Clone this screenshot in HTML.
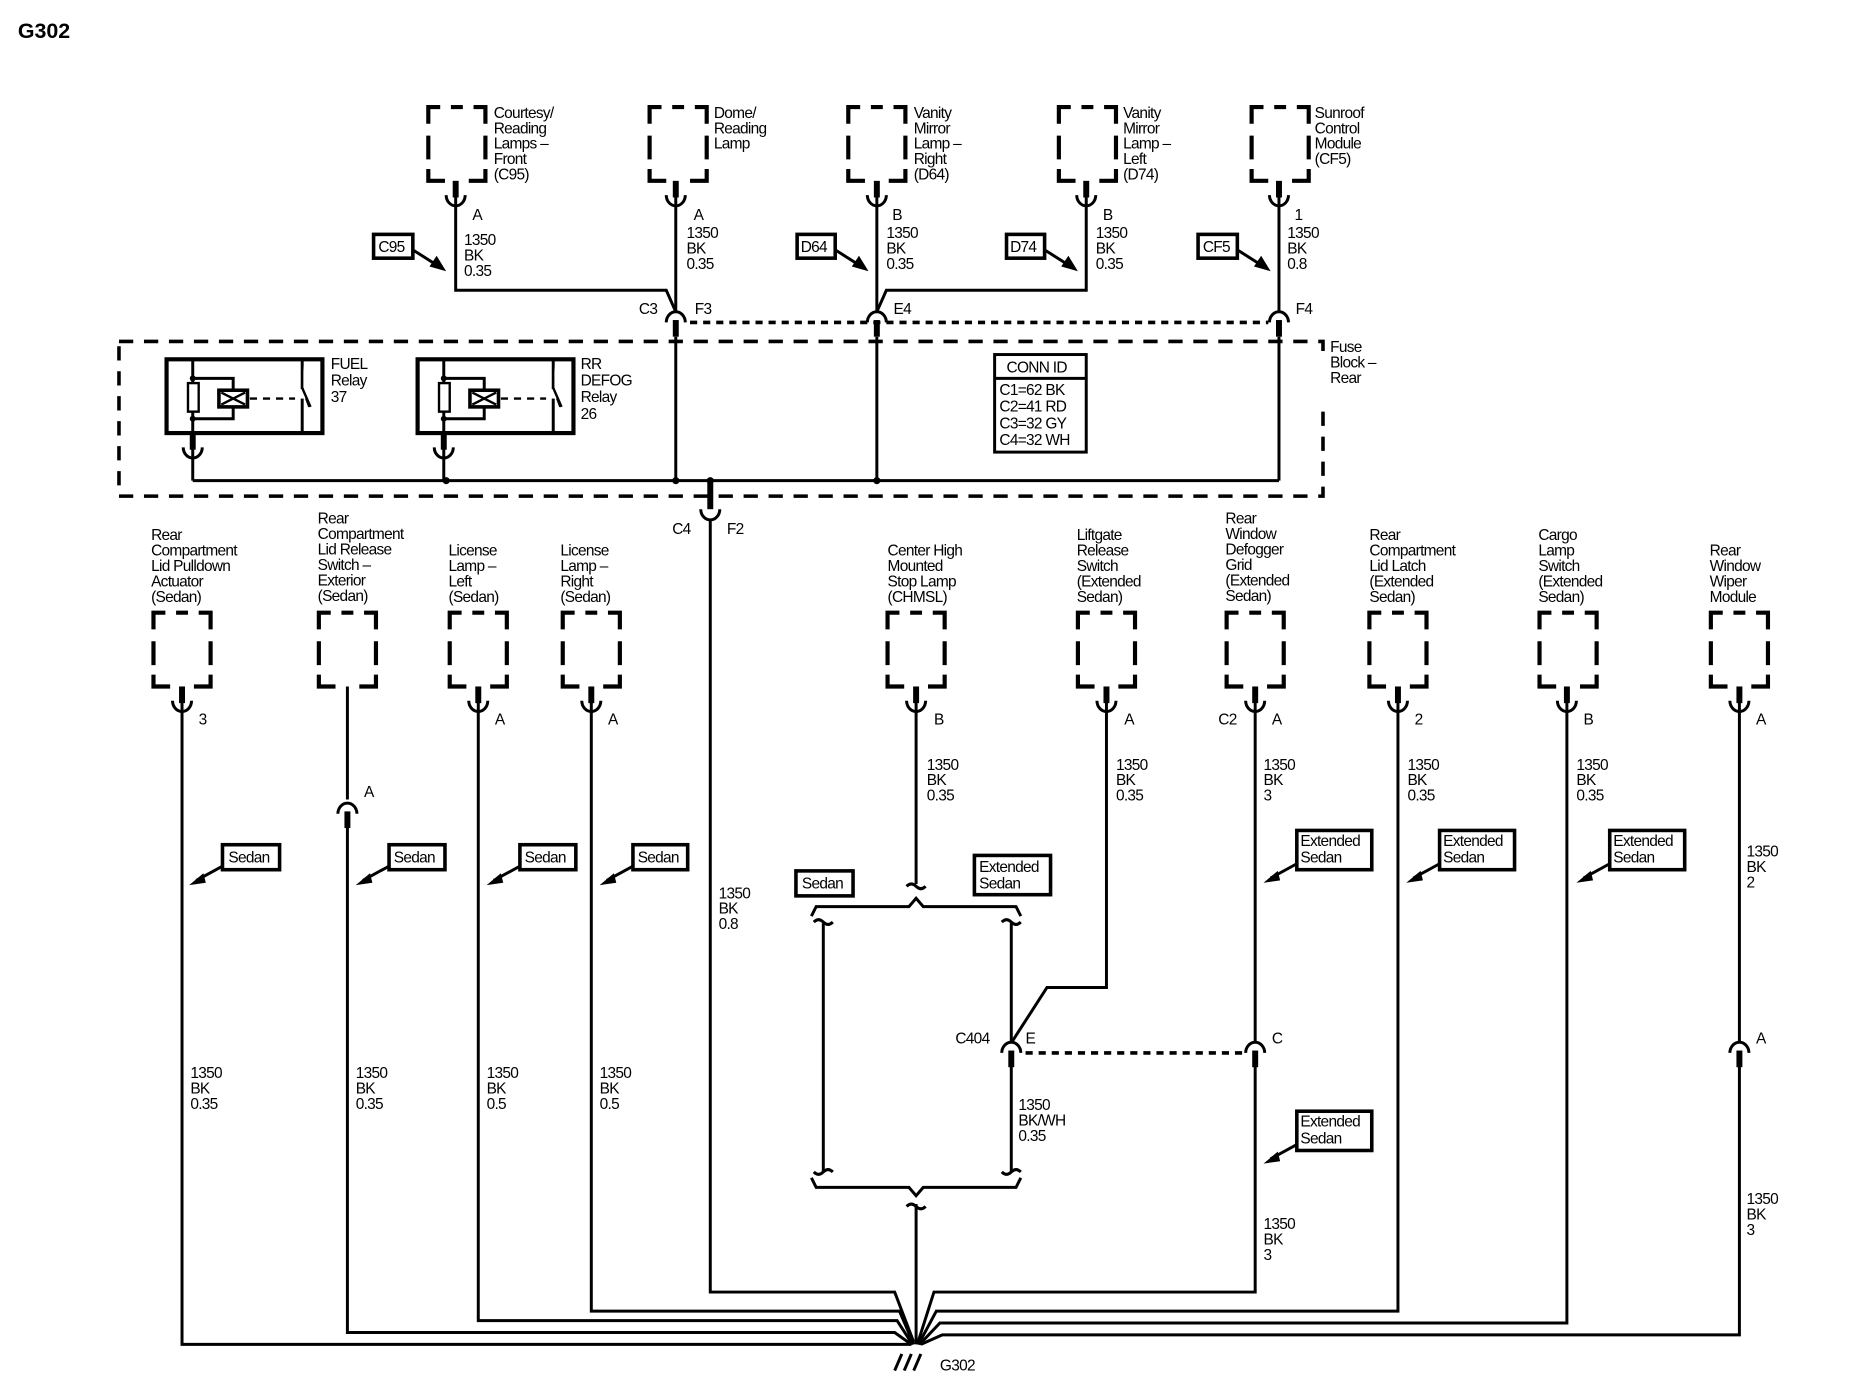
<!DOCTYPE html>
<html><head><meta charset="utf-8"><style>
html,body{margin:0;padding:0;background:#fff;}
svg{display:block;}
text{font-family:"Liberation Sans",sans-serif;font-size:13px;letter-spacing:-0.6px;fill:#000;}
.b{font-weight:bold;font-size:18px;letter-spacing:0;}
.w{stroke:#000;stroke-width:2.5;fill:none;}
.d{stroke:#000;stroke-width:3;fill:none;stroke-dasharray:12 9;}
.dt{stroke:#000;stroke-width:3;fill:none;stroke-dasharray:6 5;}
.bx{stroke:#000;stroke-width:3;fill:#fff;}
</style></head><body>
<svg width="1856" height="1392" viewBox="0 0 1560 1170" preserveAspectRatio="none" xmlns="http://www.w3.org/2000/svg">
<defs>
<!-- component pin: stub + cup, origin at box bottom -->
<g id="pin"><rect x="-2.5" y="0" width="5" height="14" fill="#000"/><path d="M-8,12 a8,9 0 0 0 16,0" class="w"/></g>
<!-- mating arch: origin at top of arch -->
<g id="arch"><path d="M-8,10 a8,9 0 0 1 16,0" class="w"/><rect x="-2.5" y="8" width="5" height="14" fill="#000"/></g>
<!-- dashed component box 48x62 -->
<g id="cb"><path d="M0,14 V0 H10 M19,0 H29 M38,0 H48 V14 M0,24 V44 M48,24 V44 M0,52 V62 H14 M34,62 H48 V52" stroke="#000" stroke-width="3.5" fill="none"/></g>
<g id="arrowL"><path d="M0,0 L-22,12" class="w"/><path d="M-28,16 L-16,6 L-14,14 Z" fill="#000"/></g>
<g id="arrowR"><path d="M0,0 L22,14" class="w"/><path d="M28,18 L14,14 L20,5 Z" fill="#000"/></g>
<g id="brk"><path d="M-8,2 q3,-5 8,-2 q5,3 8,-2" class="w"/></g>
</defs>

<text x="15" y="32" class="b">G302</text>

<!-- TOP COMPONENTS -->
<use href="#cb" x="360" y="90"/><use href="#pin" x="383" y="152"/>
<text x="415" y="99">Courtesy/</text><text x="415" y="112">Reading</text><text x="415" y="125">Lamps –</text><text x="415" y="138">Front</text><text x="415" y="151">(C95)</text>
<use href="#cb" x="546" y="90"/><use href="#pin" x="568" y="152"/>
<text x="600" y="99">Dome/</text><text x="600" y="112">Reading</text><text x="600" y="125">Lamp</text>
<use href="#cb" x="713" y="90"/><use href="#pin" x="737" y="152"/>
<text x="768" y="99">Vanity</text><text x="768" y="112">Mirror</text><text x="768" y="125">Lamp –</text><text x="768" y="138">Right</text><text x="768" y="151">(D64)</text>
<use href="#cb" x="890" y="90"/><use href="#pin" x="913" y="152"/>
<text x="944" y="99">Vanity</text><text x="944" y="112">Mirror</text><text x="944" y="125">Lamp –</text><text x="944" y="138">Left</text><text x="944" y="151">(D74)</text>
<use href="#cb" x="1052" y="90"/><use href="#pin" x="1075" y="152"/>
<text x="1105" y="99">Sunroof</text><text x="1105" y="112">Control</text><text x="1105" y="125">Module</text><text x="1105" y="138">(CF5)</text>

<text x="397" y="185">A</text><text x="583" y="185">A</text><text x="750" y="185">B</text><text x="927" y="185">B</text><text x="1088" y="185">1</text>
<text x="390" y="206">1350</text><text x="390" y="219">BK</text><text x="390" y="232">0.35</text>
<text x="577" y="200">1350</text><text x="577" y="213">BK</text><text x="577" y="226">0.35</text>
<text x="745" y="200">1350</text><text x="745" y="213">BK</text><text x="745" y="226">0.35</text>
<text x="921" y="200">1350</text><text x="921" y="213">BK</text><text x="921" y="226">0.35</text>
<text x="1082" y="200">1350</text><text x="1082" y="213">BK</text><text x="1082" y="226">0.8</text>

<rect x="314" y="197" width="33" height="20" class="bx"/><text x="318" y="212">C95</text><use href="#arrowR" x="347" y="210"/>
<rect x="670" y="197" width="32" height="20" class="bx"/><text x="673" y="212">D64</text><use href="#arrowR" x="702" y="210"/>
<rect x="846" y="197" width="32" height="20" class="bx"/><text x="849" y="212">D74</text><use href="#arrowR" x="878" y="210"/>
<rect x="1007" y="197" width="33" height="20" class="bx"/><text x="1011" y="212">CF5</text><use href="#arrowR" x="1040" y="210"/>

<path d="M383,165 V244 H560 L568,262" class="w"/>
<path d="M568,165 V262" class="w"/>
<path d="M737,165 V262" class="w"/>
<path d="M913,165 V244 H745 L737,262" class="w"/>
<path d="M1075,165 V262" class="w"/>
<use href="#arch" x="568" y="261"/><use href="#arch" x="737" y="261"/><use href="#arch" x="1075" y="261"/>
<path d="M580,271 H1066" class="dt"/>
<text x="537" y="264">C3</text><text x="584" y="264">F3</text><text x="751" y="264">E4</text><text x="1089" y="264">F4</text>

<!-- FUSE BLOCK -->
<path d="M100,287 H1112 V417 H100 Z" class="d"/>
<rect x="1105" y="300" width="14" height="40" fill="#fff"/>
<text x="1118" y="296">Fuse</text><text x="1118" y="309">Block –</text><text x="1118" y="322">Rear</text>
<path d="M568,283 V404 M737,283 V404 M1075,283 V404" class="w"/>
<path d="M162,404 H1075" class="w"/>
<circle cx="375" cy="404" r="3"/><circle cx="568" cy="404" r="3"/><circle cx="597" cy="404" r="3"/><circle cx="737" cy="404" r="3"/>

<!-- relays -->
<g id="relay">
<rect x="140" y="302" width="131" height="62" fill="none" stroke="#000" stroke-width="3.5"/>
<path d="M162,302 V364 M162,318 H196 V328 M162,352 H196 V341 M254,302 V364" class="w" stroke-width="2"/>
<rect x="158" y="322" width="9" height="24" fill="#fff" stroke="#000" stroke-width="2"/>
<rect x="184" y="328" width="24" height="14" fill="#fff" stroke="#000" stroke-width="3"/>
<path d="M186,330 L206,340 M206,330 L186,340" stroke="#000" stroke-width="2"/>
<path d="M210,335 H248" stroke="#000" stroke-width="2" stroke-dasharray="6 5"/>
<path d="M254,302 V326 L260,342" stroke="#000" stroke-width="2" fill="#fff"/>
<rect x="250" y="327" width="14" height="8" fill="#fff"/>
<path d="M254,326 L261,342" stroke="#000" stroke-width="2"/>
<circle cx="162" cy="318" r="2.5"/><circle cx="162" cy="352" r="2.5"/>
<use href="#pin" x="162" y="364"/>
<path d="M162,377 V404" class="w"/>
</g>
<use href="#relay" x="211" y="0"/>
<text x="278" y="310">FUEL</text><text x="278" y="324">Relay</text><text x="278" y="338">37</text>
<text x="488" y="310">RR</text><text x="488" y="324">DEFOG</text><text x="488" y="338">Relay</text><text x="488" y="352">26</text>

<rect x="836" y="298" width="77" height="82" fill="#fff" stroke="#000" stroke-width="2.5"/>
<path d="M836,318 H913" stroke="#000" stroke-width="2.5"/>
<text x="846" y="313">CONN ID</text>
<text x="840" y="332">C1=62 BK</text><text x="840" y="346">C2=41 RD</text><text x="840" y="360">C3=32 GY</text><text x="840" y="374">C4=32 WH</text>

<!-- C4 F2 -->
<path d="M597,404 V428" stroke="#000" stroke-width="5"/>
<path d="M589,428 a8,9 0 0 0 16,0" class="w"/>
<text x="565" y="449">C4</text><text x="611" y="449">F2</text>
<path d="M597,437 V1086 H752 L768,1128" class="w"/>
<text x="604" y="755">1350</text><text x="604" y="768">BK</text><text x="604" y="781">0.8</text>

<!-- BOTTOM COMPONENTS -->
<use href="#cb" x="129" y="515"/><use href="#pin" x="153" y="577"/>
<text x="127" y="454">Rear</text><text x="127" y="467">Compartment</text><text x="127" y="480">Lid Pulldown</text><text x="127" y="493">Actuator</text><text x="127" y="506">(Sedan)</text>
<use href="#cb" x="268" y="515"/>
<text x="267" y="440">Rear</text><text x="267" y="453">Compartment</text><text x="267" y="466">Lid Release</text><text x="267" y="479">Switch –</text><text x="267" y="492">Exterior</text><text x="267" y="505">(Sedan)</text>
<use href="#cb" x="378" y="515"/><use href="#pin" x="402" y="577"/>
<text x="377" y="467">License</text><text x="377" y="480">Lamp –</text><text x="377" y="493">Left</text><text x="377" y="506">(Sedan)</text>
<use href="#cb" x="473" y="515"/><use href="#pin" x="497" y="577"/>
<text x="471" y="467">License</text><text x="471" y="480">Lamp –</text><text x="471" y="493">Right</text><text x="471" y="506">(Sedan)</text>
<use href="#cb" x="746" y="515"/><use href="#pin" x="770" y="577"/>
<text x="746" y="467">Center High</text><text x="746" y="480">Mounted</text><text x="746" y="493">Stop Lamp</text><text x="746" y="506">(CHMSL)</text>
<use href="#cb" x="906" y="515"/><use href="#pin" x="930" y="577"/>
<text x="905" y="454">Liftgate</text><text x="905" y="467">Release</text><text x="905" y="480">Switch</text><text x="905" y="493">(Extended</text><text x="905" y="506">Sedan)</text>
<use href="#cb" x="1031" y="515"/><use href="#pin" x="1055" y="577"/>
<text x="1030" y="440">Rear</text><text x="1030" y="453">Window</text><text x="1030" y="466">Defogger</text><text x="1030" y="479">Grid</text><text x="1030" y="492">(Extended</text><text x="1030" y="505">Sedan)</text>
<use href="#cb" x="1151" y="515"/><use href="#pin" x="1175" y="577"/>
<text x="1151" y="454">Rear</text><text x="1151" y="467">Compartment</text><text x="1151" y="480">Lid Latch</text><text x="1151" y="493">(Extended</text><text x="1151" y="506">Sedan)</text>
<use href="#cb" x="1294" y="515"/><use href="#pin" x="1317" y="577"/>
<text x="1293" y="454">Cargo</text><text x="1293" y="467">Lamp</text><text x="1293" y="480">Switch</text><text x="1293" y="493">(Extended</text><text x="1293" y="506">Sedan)</text>
<use href="#cb" x="1438" y="515"/><use href="#pin" x="1462" y="577"/>
<text x="1437" y="467">Rear</text><text x="1437" y="480">Window</text><text x="1437" y="493">Wiper</text><text x="1437" y="506">Module</text>

<text x="167" y="609">3</text><text x="416" y="609">A</text><text x="511" y="609">A</text><text x="785" y="609">B</text><text x="945" y="609">A</text>
<text x="1024" y="609">C2</text><text x="1069" y="609">A</text><text x="1189" y="609">2</text><text x="1331" y="609">B</text><text x="1476" y="609">A</text>

<!-- wires -->
<path d="M153,590 V1130 H752 L766,1130" class="w"/>
<path d="M292,577 V672" class="w"/>
<path d="M284,684 a8,9 0 0 1 16,0" class="w"/><rect x="289.5" y="682" width="5" height="14" fill="#000"/>
<text x="306" y="670">A</text>
<path d="M292,690 V1120 H752 L766,1130" class="w"/>
<path d="M402,590 V1110 H754 L767,1130" class="w"/>
<path d="M497,590 V1102 H756 L768,1130" class="w"/>
<path d="M770,590 V743" class="w"/>
<path d="M930,590 V830 H880 L851,875" class="w"/>
<path d="M1055,590 V875" class="w"/>
<path d="M1175,590 V1102 H787 L772,1130" class="w"/>
<path d="M1317,590 V1112 H790 L773,1130" class="w"/>
<path d="M1462,590 V875" class="w"/>
<path d="M1055,895 V1086 H785 L771,1130" class="w"/>
<path d="M1462,895 V1122 H792 L774,1130" class="w"/>
<path d="M770,1012 V1130" class="w"/>

<!-- wire labels -->
<text x="160" y="906">1350</text><text x="160" y="919">BK</text><text x="160" y="932">0.35</text>
<text x="299" y="906">1350</text><text x="299" y="919">BK</text><text x="299" y="932">0.35</text>
<text x="409" y="906">1350</text><text x="409" y="919">BK</text><text x="409" y="932">0.5</text>
<text x="504" y="906">1350</text><text x="504" y="919">BK</text><text x="504" y="932">0.5</text>
<text x="779" y="647">1350</text><text x="779" y="660">BK</text><text x="779" y="673">0.35</text>
<text x="938" y="647">1350</text><text x="938" y="660">BK</text><text x="938" y="673">0.35</text>
<text x="1062" y="647">1350</text><text x="1062" y="660">BK</text><text x="1062" y="673">3</text>
<text x="1183" y="647">1350</text><text x="1183" y="660">BK</text><text x="1183" y="673">0.35</text>
<text x="1325" y="647">1350</text><text x="1325" y="660">BK</text><text x="1325" y="673">0.35</text>
<text x="1468" y="720">1350</text><text x="1468" y="733">BK</text><text x="1468" y="746">2</text>
<text x="1468" y="1012">1350</text><text x="1468" y="1025">BK</text><text x="1468" y="1038">3</text>
<text x="1062" y="1033">1350</text><text x="1062" y="1046">BK</text><text x="1062" y="1059">3</text>
<text x="856" y="933">1350</text><text x="856" y="946">BK/WH</text><text x="856" y="959">0.35</text>

<!-- Sedan tags -->
<rect x="187" y="710" width="48" height="21" class="bx"/><text x="192" y="725">Sedan</text><use href="#arrowL" x="187" y="728"/>
<rect x="327" y="710" width="47" height="21" class="bx"/><text x="331" y="725">Sedan</text><use href="#arrowL" x="327" y="728"/>
<rect x="437" y="710" width="47" height="21" class="bx"/><text x="441" y="725">Sedan</text><use href="#arrowL" x="437" y="728"/>
<rect x="532" y="710" width="46" height="21" class="bx"/><text x="536" y="725">Sedan</text><use href="#arrowL" x="532" y="728"/>
<rect x="1090" y="698" width="63" height="33" class="bx"/><text x="1093" y="711">Extended</text><text x="1093" y="725">Sedan</text><use href="#arrowL" x="1090" y="726"/>
<rect x="1210" y="698" width="63" height="33" class="bx"/><text x="1213" y="711">Extended</text><text x="1213" y="725">Sedan</text><use href="#arrowL" x="1210" y="726"/>
<rect x="1353" y="698" width="63" height="33" class="bx"/><text x="1356" y="711">Extended</text><text x="1356" y="725">Sedan</text><use href="#arrowL" x="1353" y="726"/>
<rect x="1090" y="934" width="63" height="33" class="bx"/><text x="1093" y="947">Extended</text><text x="1093" y="961">Sedan</text><use href="#arrowL" x="1090" y="962"/>
<rect x="669" y="732" width="48" height="21" class="bx"/><text x="674" y="747">Sedan</text>
<rect x="819" y="719" width="64" height="33" class="bx"/><text x="823" y="733">Extended</text><text x="823" y="747">Sedan</text>

<!-- CHMSL splice -->
<path d="M762,745 q4,-4 8,0 q4,4 8,0" class="w"/>
<path d="M682,770 L686,762 H764 L770,755 L776,762 H854 L858,770" class="w"/>
<path d="M684,775 q4,-4 8,0 q4,4 8,0 M842,775 q4,-4 8,0 q4,4 8,0" class="w"/>
<path d="M692,776 V985 M850,776 V875" class="w"/>
<path d="M850,895 V985" class="w"/>
<path d="M684,985 q4,4 8,0 q4,-4 8,0 M842,985 q4,4 8,0 q4,-4 8,0" class="w"/>
<path d="M682,990 L686,998 H764 L770,1005 L776,998 H854 L858,990" class="w"/>
<path d="M762,1014 q4,-4 8,0 q4,4 8,0" class="w"/>

<use href="#arch" x="850" y="875"/><use href="#arch" x="1055" y="875"/><use href="#arch" x="1462" y="875"/>
<path d="M862,885 H1045" class="dt"/>
<text x="803" y="877">C404</text><text x="862" y="877">E</text><text x="1069" y="877">C</text><text x="1476" y="877">A</text>

<!-- ground -->
<path d="M752,1152 L758,1138 M760,1152 L766,1138 M768,1152 L774,1138" class="w"/>
<text x="790" y="1152">G302</text>
</svg>
</body></html>
